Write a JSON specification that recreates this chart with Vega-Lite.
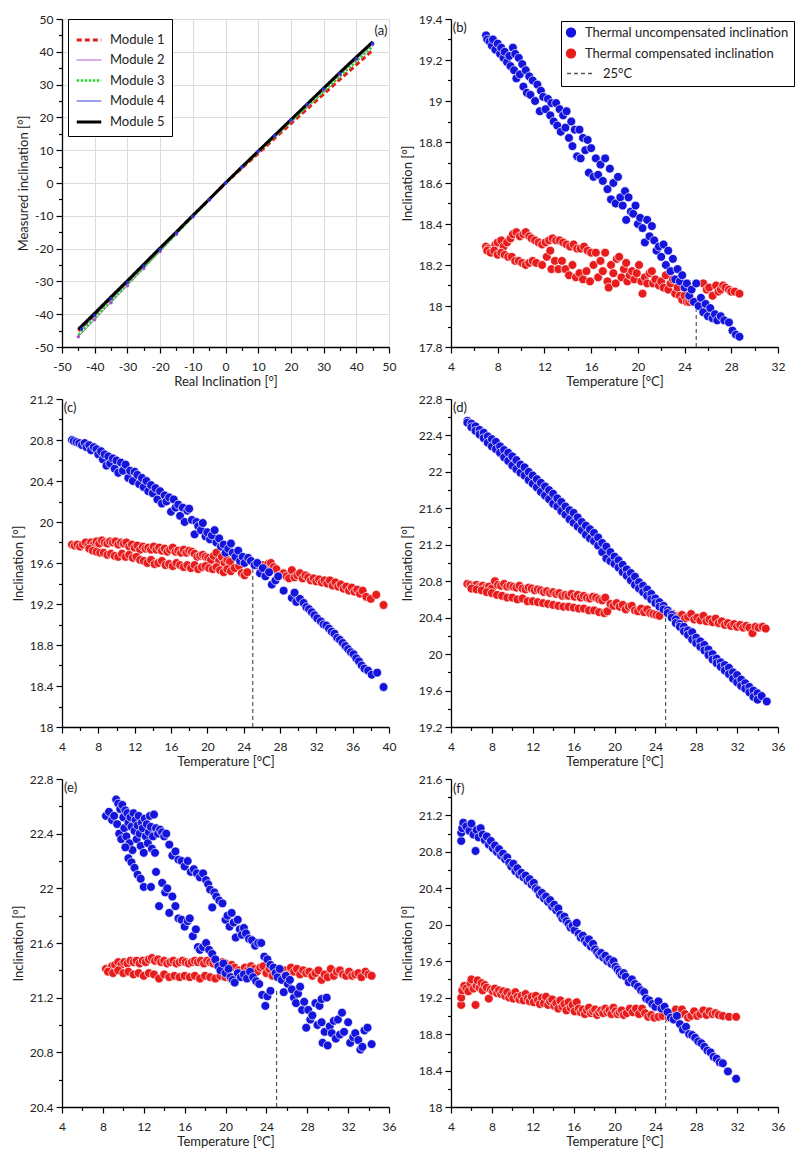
{
"$schema": "https://vega.github.io/schema/vega-lite/v6.json",
"background": "white",
"padding": {"left": 12, "top": 13, "right": 4, "bottom": 4},
"config": {
 "font": "Lato",
 "view": {"stroke": null},
 "axis": {"domainColor": "#000", "domainWidth": 1.3, "tickColor": "#000", "tickWidth": 1.2, "labelFont": "Lato", "labelFontSize": 12, "labelColor": "#222", "titleFont": "Lato", "titleFontSize": 13, "titleFontWeight": "normal", "titleColor": "#222", "grid": false, "labelFlush": false, "labelOverlap": false},
 "axisX": {"labelPadding": 8, "titlePadding": 3},
 "axisY": {"labelPadding": 3, "titlePadding": 4},
 "text": {"font": "Lato", "fontSize": 13, "color": "#222"}
},
"datasets": {
"a": [
{"x":-45,"y":-45.1,"m":"Module 1"},{"x":-40,"y":-40.1,"m":"Module 1"},{"x":-35,"y":-35.1,"m":"Module 1"},{"x":-30,"y":-30.1,"m":"Module 1"},{"x":-25,"y":-25.1,"m":"Module 1"},{"x":-20,"y":-20.1,"m":"Module 1"},{"x":-15,"y":-15,"m":"Module 1"},{"x":-10,"y":-10,"m":"Module 1"},{"x":-5,"y":-5,"m":"Module 1"},{"x":0,"y":0,"m":"Module 1"},{"x":5,"y":4.5,"m":"Module 1"},{"x":10,"y":9,"m":"Module 1"},{"x":15,"y":13.6,"m":"Module 1"},{"x":20,"y":18.1,"m":"Module 1"},{"x":25,"y":22.6,"m":"Module 1"},{"x":30,"y":27.1,"m":"Module 1"},{"x":35,"y":31.6,"m":"Module 1"},{"x":40,"y":36,"m":"Module 1"},{"x":45,"y":40.5,"m":"Module 1"},
{"x":-45,"y":-46.9,"m":"Module 2"},{"x":-40,"y":-41.7,"m":"Module 2"},{"x":-35,"y":-36.5,"m":"Module 2"},{"x":-30,"y":-31.3,"m":"Module 2"},{"x":-25,"y":-26.1,"m":"Module 2"},{"x":-20,"y":-20.9,"m":"Module 2"},{"x":-15,"y":-15.6,"m":"Module 2"},{"x":-10,"y":-10.4,"m":"Module 2"},{"x":-5,"y":-5.2,"m":"Module 2"},{"x":0,"y":0,"m":"Module 2"},{"x":5,"y":4.8,"m":"Module 2"},{"x":10,"y":9.6,"m":"Module 2"},{"x":15,"y":14.3,"m":"Module 2"},{"x":20,"y":19,"m":"Module 2"},{"x":25,"y":23.7,"m":"Module 2"},{"x":30,"y":28.4,"m":"Module 2"},{"x":35,"y":33,"m":"Module 2"},{"x":40,"y":37.6,"m":"Module 2"},{"x":45,"y":42.2,"m":"Module 2"},
{"x":-45,"y":-46.3,"m":"Module 3"},{"x":-40,"y":-41.2,"m":"Module 3"},{"x":-35,"y":-36,"m":"Module 3"},{"x":-30,"y":-30.9,"m":"Module 3"},{"x":-25,"y":-25.7,"m":"Module 3"},{"x":-20,"y":-20.6,"m":"Module 3"},{"x":-15,"y":-15.4,"m":"Module 3"},{"x":-10,"y":-10.3,"m":"Module 3"},{"x":-5,"y":-5.1,"m":"Module 3"},{"x":0,"y":0,"m":"Module 3"},{"x":5,"y":4.7,"m":"Module 3"},{"x":10,"y":9.4,"m":"Module 3"},{"x":15,"y":14.1,"m":"Module 3"},{"x":20,"y":18.7,"m":"Module 3"},{"x":25,"y":23.3,"m":"Module 3"},{"x":30,"y":27.9,"m":"Module 3"},{"x":35,"y":32.5,"m":"Module 3"},{"x":40,"y":37.1,"m":"Module 3"},{"x":45,"y":41.6,"m":"Module 3"},
{"x":-44,"y":-44.5,"m":"Module 4"},{"x":-40,"y":-40.4,"m":"Module 4"},{"x":-35,"y":-35.3,"m":"Module 4"},{"x":-30,"y":-30.3,"m":"Module 4"},{"x":-25,"y":-25.3,"m":"Module 4"},{"x":-20,"y":-20.3,"m":"Module 4"},{"x":-15,"y":-15.2,"m":"Module 4"},{"x":-10,"y":-10.1,"m":"Module 4"},{"x":-5,"y":-5.1,"m":"Module 4"},{"x":0,"y":0,"m":"Module 4"},{"x":5,"y":4.9,"m":"Module 4"},{"x":10,"y":9.7,"m":"Module 4"},{"x":15,"y":14.5,"m":"Module 4"},{"x":20,"y":19.3,"m":"Module 4"},{"x":25,"y":24,"m":"Module 4"},{"x":30,"y":28.7,"m":"Module 4"},{"x":35,"y":33.4,"m":"Module 4"},{"x":40,"y":38,"m":"Module 4"},{"x":45,"y":42.6,"m":"Module 4"},
{"x":-45,"y":-44.6,"m":"Module 5"},{"x":-40,"y":-39.7,"m":"Module 5"},{"x":-35,"y":-34.7,"m":"Module 5"},{"x":-30,"y":-29.8,"m":"Module 5"},{"x":-25,"y":-24.8,"m":"Module 5"},{"x":-20,"y":-19.8,"m":"Module 5"},{"x":-15,"y":-14.9,"m":"Module 5"},{"x":-10,"y":-9.9,"m":"Module 5"},{"x":-5,"y":-5,"m":"Module 5"},{"x":0,"y":0,"m":"Module 5"},{"x":5,"y":4.9,"m":"Module 5"},{"x":10,"y":9.7,"m":"Module 5"},{"x":15,"y":14.5,"m":"Module 5"},{"x":20,"y":19.3,"m":"Module 5"},{"x":25,"y":24.1,"m":"Module 5"},{"x":30,"y":28.9,"m":"Module 5"},{"x":35,"y":33.7,"m":"Module 5"},{"x":40,"y":38.4,"m":"Module 5"},{"x":45,"y":43,"m":"Module 5"}
],
"bu": [
{"t":7,"v":19.32},{"t":7.1,"v":19.3},{"t":7.3,"v":19.29},{"t":7.5,"v":19.27},{"t":7.6,"v":19.3},{"t":7.8,"v":19.25},{"t":8,"v":19.28},{"t":8.2,"v":19.23},{"t":8.3,"v":19.26},{"t":8.5,"v":19.21},{"t":8.6,"v":19.24},{"t":8.8,"v":19.19},{"t":9,"v":19.22},{"t":9.1,"v":19.17},{"t":9.3,"v":19.26},{"t":9.4,"v":19.15},{"t":9.5,"v":19.23},{"t":9.6,"v":19.11},{"t":9.8,"v":19.21},{"t":9.9,"v":19.13},{"t":10.1,"v":19.18},{"t":10.2,"v":19.07},{"t":10.4,"v":19.15},{"t":10.5,"v":19.04},{"t":10.7,"v":19.12},{"t":10.8,"v":19.03},{"t":11,"v":19.1},{"t":11.2,"v":19},{"t":11.4,"v":19.08},{"t":11.6,"v":18.95},{"t":11.7,"v":19.05},{"t":11.9,"v":19.02},{"t":12.1,"v":18.96},{"t":12.3,"v":19.01},{"t":12.5,"v":18.93},{"t":12.6,"v":18.99},{"t":12.8,"v":18.9},{"t":13,"v":18.99},{"t":13.1,"v":18.88},{"t":13.3,"v":18.96},{"t":13.4,"v":18.85},{"t":13.6,"v":18.93},{"t":13.8,"v":18.87},{"t":13.9,"v":18.95},{"t":14.1,"v":18.82},{"t":14.3,"v":18.9},{"t":14.4,"v":18.78},{"t":14.6,"v":18.86},{"t":14.8,"v":18.73},{"t":15,"v":18.86},{"t":15.1,"v":18.72},{"t":15.3,"v":18.82},{"t":15.5,"v":18.76},{"t":15.7,"v":18.81},{"t":15.8,"v":18.65},{"t":16,"v":18.77},{"t":16.2,"v":18.63},{"t":16.4,"v":18.72},{"t":16.6,"v":18.64},{"t":16.8,"v":18.69},{"t":17,"v":18.61},{"t":17.2,"v":18.72},{"t":17.4,"v":18.57},{"t":17.6,"v":18.67},{"t":17.7,"v":18.52},{"t":17.9,"v":18.6},{"t":18.1,"v":18.5},{"t":18.3,"v":18.63},{"t":18.5,"v":18.53},{"t":18.7,"v":18.49},{"t":18.9,"v":18.56},{"t":19,"v":18.42},{"t":19.2,"v":18.53},{"t":19.4,"v":18.46},{"t":19.6,"v":18.45},{"t":19.8,"v":18.49},{"t":20,"v":18.4},{"t":20.2,"v":18.43},{"t":20.4,"v":18.38},{"t":20.6,"v":18.31},{"t":20.8,"v":18.42},{"t":21,"v":18.34},{"t":21.2,"v":18.39},{"t":21.4,"v":18.32},{"t":21.6,"v":18.27},{"t":21.8,"v":18.29},{"t":22,"v":18.24},{"t":22.2,"v":18.3},{"t":22.4,"v":18.2},{"t":22.6,"v":18.27},{"t":22.8,"v":18.17},{"t":23,"v":18.23},{"t":23.2,"v":18.13},{"t":23.4,"v":18.18},{"t":23.6,"v":18.12},{"t":23.8,"v":18.15},{"t":24,"v":18.09},{"t":24.2,"v":18.11},{"t":24.4,"v":18.05},{"t":24.6,"v":18.08},{"t":24.8,"v":18.02},{"t":25,"v":18.11},{"t":25.2,"v":18},{"t":25.4,"v":18.04},{"t":25.6,"v":17.97},{"t":25.8,"v":18.01},{"t":26,"v":17.95},{"t":26.2,"v":17.99},{"t":26.4,"v":17.94},{"t":26.6,"v":17.96},{"t":26.8,"v":17.93},{"t":27.1,"v":17.95},{"t":27.4,"v":17.93},{"t":27.8,"v":17.92},{"t":28.1,"v":17.88},{"t":28.4,"v":17.86},{"t":28.7,"v":17.85}
],
"br": [
{"t":7,"v":18.29},{"t":7.2,"v":18.28},{"t":7.5,"v":18.27},{"t":7.8,"v":18.3},{"t":8,"v":18.31},{"t":8.3,"v":18.32},{"t":8.5,"v":18.29},{"t":8.8,"v":18.31},{"t":9.1,"v":18.33},{"t":9.3,"v":18.35},{"t":9.6,"v":18.36},{"t":9.9,"v":18.34},{"t":10.2,"v":18.35},{"t":10.4,"v":18.36},{"t":10.7,"v":18.34},{"t":10.9,"v":18.33},{"t":11.2,"v":18.32},{"t":11.5,"v":18.31},{"t":11.8,"v":18.3},{"t":12.1,"v":18.31},{"t":12.4,"v":18.32},{"t":12.7,"v":18.33},{"t":13,"v":18.32},{"t":13.3,"v":18.32},{"t":13.6,"v":18.31},{"t":13.9,"v":18.3},{"t":14.2,"v":18.29},{"t":14.5,"v":18.3},{"t":14.8,"v":18.28},{"t":15.1,"v":18.28},{"t":15.4,"v":18.29},{"t":15.7,"v":18.27},{"t":16,"v":18.26},
{"t":7.1,"v":18.27},{"t":7.4,"v":18.26},{"t":7.7,"v":18.27},{"t":8,"v":18.25},{"t":8.3,"v":18.26},{"t":8.6,"v":18.25},{"t":8.9,"v":18.24},{"t":9.2,"v":18.24},{"t":9.5,"v":18.22},{"t":9.8,"v":18.22},{"t":10.1,"v":18.21},{"t":10.4,"v":18.2},{"t":10.7,"v":18.21},{"t":11,"v":18.22},{"t":11.3,"v":18.21},{"t":11.8,"v":18.2},{"t":12.2,"v":18.24},{"t":12.5,"v":18.27},{"t":12.6,"v":18.18},{"t":12.9,"v":18.22},{"t":13.2,"v":18.18},{"t":13.5,"v":18.22},{"t":13.8,"v":18.18},{"t":14.1,"v":18.15},{"t":14.4,"v":18.2},{"t":14.7,"v":18.14},{"t":15,"v":18.16},{"t":15.3,"v":18.13},{"t":15.6,"v":18.17},{"t":15.9,"v":18.12},
{"t":16.2,"v":18.2},{"t":16.4,"v":18.26},{"t":16.6,"v":18.14},{"t":16.8,"v":18.22},{"t":17,"v":18.17},{"t":17.2,"v":18.26},{"t":17.4,"v":18.12},{"t":17.5,"v":18.09},{"t":17.7,"v":18.2},{"t":17.9,"v":18.16},{"t":18.1,"v":18.11},{"t":18.2,"v":18.23},{"t":18.4,"v":18.24},{"t":18.6,"v":18.14},{"t":18.8,"v":18.18},{"t":19,"v":18.21},{"t":19.1,"v":18.12},{"t":19.3,"v":18.15},{"t":19.5,"v":18.17},{"t":19.7,"v":18.13},{"t":19.9,"v":18.16},{"t":20.1,"v":18.2},{"t":20.3,"v":18.12},{"t":20.4,"v":18.06},{"t":20.6,"v":18.14},{"t":20.8,"v":18.11},{"t":21,"v":18.16},{"t":21.2,"v":18.17},{"t":21.3,"v":18.11},{"t":21.5,"v":18.13},{"t":21.8,"v":18.1},{"t":22,"v":18.12},{"t":22.2,"v":18.09},{"t":22.4,"v":18.15},{"t":22.6,"v":18.08},{"t":22.8,"v":18.11},{"t":23,"v":18.13},{"t":23.2,"v":18.06},{"t":23.4,"v":18.09},{"t":23.6,"v":18.05},{"t":23.8,"v":18.03},{"t":24,"v":18.05},{"t":24.2,"v":18.02},{"t":24.4,"v":18.02},{"t":24.6,"v":18.03},
{"t":25.6,"v":18.11},{"t":25.9,"v":18.08},{"t":26.1,"v":18.09},{"t":26.4,"v":18.05},{"t":26.7,"v":18.1},{"t":26.9,"v":18.07},{"t":27.1,"v":18.08},{"t":27.3,"v":18.1},{"t":27.5,"v":18.09},{"t":27.8,"v":18.08},{"t":28,"v":18.07},{"t":28.3,"v":18.07},{"t":28.7,"v":18.06}
],
"cu": [
{"t":5.1,"v":20.8},{"t":5.3,"v":20.79},{"t":5.6,"v":20.78},{"t":5.9,"v":20.77},{"t":6.2,"v":20.75},{"t":6.5,"v":20.77},{"t":6.7,"v":20.73},{"t":7,"v":20.75},{"t":7.2,"v":20.7},{"t":7.5,"v":20.73},{"t":7.8,"v":20.71},{"t":8,"v":20.66},{"t":8.3,"v":20.69},{"t":8.5,"v":20.61},{"t":8.7,"v":20.66},{"t":8.9,"v":20.55},{"t":9.1,"v":20.64},{"t":9.3,"v":20.57},{"t":9.6,"v":20.62},{"t":9.8,"v":20.52},{"t":10,"v":20.6},{"t":10.2,"v":20.48},{"t":10.5,"v":20.58},{"t":10.7,"v":20.5},{"t":11,"v":20.56},{"t":11.3,"v":20.43},{"t":11.5,"v":20.5},{"t":11.8,"v":20.4},{"t":12,"v":20.49},{"t":12.3,"v":20.46},{"t":12.5,"v":20.37},{"t":12.8,"v":20.43},{"t":13,"v":20.34},{"t":13.3,"v":20.4},{"t":13.5,"v":20.3},{"t":13.8,"v":20.36},{"t":14,"v":20.28},{"t":14.3,"v":20.33},{"t":14.5,"v":20.22},{"t":14.8,"v":20.3},{"t":15,"v":20.18},{"t":15.3,"v":20.26},{"t":15.5,"v":20.2},{"t":15.8,"v":20.24},{"t":16,"v":20.1},{"t":16.3,"v":20.22},{"t":16.5,"v":20.14},{"t":16.8,"v":20.17},{"t":17,"v":20.06},{"t":17.3,"v":20.14},{"t":17.5,"v":20},{"t":17.8,"v":20.11},{"t":18,"v":20.13},{"t":18.3,"v":20.02},{"t":18.6,"v":19.88},{"t":18.8,"v":20},{"t":19,"v":19.96},{"t":19.3,"v":19.92},{"t":19.5,"v":19.99},{"t":19.8,"v":19.86},{"t":20,"v":19.9},{"t":20.3,"v":19.83},{"t":20.5,"v":19.87},{"t":20.8,"v":19.92},{"t":21,"v":19.8},{"t":21.3,"v":19.84},{"t":21.5,"v":19.76},{"t":21.8,"v":19.78},{"t":22,"v":19.7},{"t":22.3,"v":19.74},{"t":22.6,"v":19.79},{"t":22.8,"v":19.7},{"t":23.1,"v":19.66},{"t":23.4,"v":19.72},{"t":23.6,"v":19.62},{"t":23.9,"v":19.66},{"t":24.1,"v":19.6},{"t":24.5,"v":19.65},{"t":24.8,"v":19.62},{"t":25.2,"v":19.58},{"t":25.5,"v":19.6},{"t":25.8,"v":19.5},{"t":26.1,"v":19.55},{"t":26.4,"v":19.47},{"t":26.8,"v":19.51},{"t":27.1,"v":19.39},{"t":27.5,"v":19.43},{"t":27.8,"v":19.47},{"t":28.4,"v":19.33},{"t":29.3,"v":19.26},{"t":29.6,"v":19.31},{"t":29.8,"v":19.22},{"t":30.2,"v":19.25},{"t":30.6,"v":19.21},{"t":30.9,"v":19.17},{"t":31.2,"v":19.15},{"t":31.5,"v":19.12},{"t":31.8,"v":19.09},{"t":32.1,"v":19.06},{"t":32.5,"v":19.03},{"t":32.8,"v":19},{"t":33.1,"v":18.99},{"t":33.4,"v":18.96},{"t":33.7,"v":18.93},{"t":34,"v":18.91},{"t":34.3,"v":18.87},{"t":34.6,"v":18.85},{"t":34.9,"v":18.82},{"t":35.2,"v":18.79},{"t":35.5,"v":18.76},{"t":35.8,"v":18.73},{"t":36.1,"v":18.71},{"t":36.4,"v":18.67},{"t":36.7,"v":18.64},{"t":37,"v":18.6},{"t":37.3,"v":18.57},{"t":37.7,"v":18.55},{"t":38.1,"v":18.51},{"t":38.7,"v":18.53},{"t":39.4,"v":18.39}
],
"cr": [
{"t":5.1,"v":19.78},{"t":5.4,"v":19.77},{"t":5.7,"v":19.78},{"t":6,"v":19.76},{"t":6.3,"v":19.78},{"t":6.6,"v":19.8},{"t":6.9,"v":19.77},{"t":7.2,"v":19.8},{"t":7.5,"v":19.78},{"t":7.8,"v":19.81},{"t":8.1,"v":19.79},{"t":8.4,"v":19.82},{"t":8.7,"v":19.8},{"t":9,"v":19.79},{"t":9.3,"v":19.81},{"t":9.6,"v":19.8},{"t":9.9,"v":19.81},{"t":10.2,"v":19.78},{"t":10.5,"v":19.8},{"t":10.8,"v":19.79},{"t":11.1,"v":19.8},{"t":11.4,"v":19.76},{"t":11.7,"v":19.78},{"t":12,"v":19.75},{"t":12.3,"v":19.77},{"t":12.6,"v":19.73},{"t":12.9,"v":19.76},{"t":13.2,"v":19.74},{"t":13.5,"v":19.75},{"t":13.8,"v":19.73},{"t":14.1,"v":19.76},{"t":14.4,"v":19.73},{"t":14.7,"v":19.75},{"t":15,"v":19.72},{"t":15.3,"v":19.74},{"t":15.6,"v":19.71},{"t":15.9,"v":19.73},{"t":16.2,"v":19.75},{"t":16.5,"v":19.71},{"t":16.8,"v":19.72},{"t":17.1,"v":19.7},{"t":17.4,"v":19.73},{"t":17.7,"v":19.7},{"t":18,"v":19.72},{"t":18.3,"v":19.71},{"t":18.6,"v":19.69},{"t":18.9,"v":19.66},{"t":19.2,"v":19.67},{"t":19.5,"v":19.68},{"t":19.8,"v":19.66},{"t":20.1,"v":19.65},{"t":20.4,"v":19.63},{"t":20.7,"v":19.67},{"t":21,"v":19.7},{"t":21.3,"v":19.62},{"t":21.6,"v":19.66},{"t":21.9,"v":19.6},{"t":22.2,"v":19.63},{"t":22.5,"v":19.61},
{"t":7,"v":19.74},{"t":7.4,"v":19.72},{"t":7.8,"v":19.71},{"t":8.2,"v":19.7},{"t":8.6,"v":19.7},{"t":9,"v":19.68},{"t":9.4,"v":19.69},{"t":9.8,"v":19.67},{"t":10.2,"v":19.66},{"t":10.6,"v":19.69},{"t":11,"v":19.66},{"t":11.4,"v":19.68},{"t":11.8,"v":19.65},{"t":12.2,"v":19.66},{"t":12.6,"v":19.63},{"t":13,"v":19.62},{"t":13.4,"v":19.6},{"t":13.8,"v":19.63},{"t":14.2,"v":19.59},{"t":14.6,"v":19.6},{"t":15,"v":19.62},{"t":15.4,"v":19.58},{"t":15.8,"v":19.59},{"t":16.2,"v":19.57},{"t":16.6,"v":19.6},{"t":17,"v":19.58},{"t":17.4,"v":19.56},{"t":17.8,"v":19.58},{"t":18.2,"v":19.55},{"t":18.6,"v":19.58},{"t":19,"v":19.54},{"t":19.4,"v":19.56},{"t":19.8,"v":19.57},{"t":20.2,"v":19.55},{"t":20.6,"v":19.54},{"t":21,"v":19.56},{"t":21.4,"v":19.53},{"t":21.8,"v":19.51},{"t":22.2,"v":19.54},{"t":22.6,"v":19.52},{"t":23,"v":19.55},{"t":23.5,"v":19.57},{"t":23.8,"v":19.5},{"t":24.1,"v":19.48},{"t":24.4,"v":19.51},
{"t":25.5,"v":19.58},{"t":25.8,"v":19.56},{"t":26.1,"v":19.58},{"t":26.4,"v":19.55},{"t":26.7,"v":19.59},{"t":27,"v":19.6},{"t":27.3,"v":19.56},{"t":27.6,"v":19.54},{"t":28,"v":19.48},{"t":28.4,"v":19.5},{"t":28.7,"v":19.47},{"t":29,"v":19.45},{"t":29.3,"v":19.53},{"t":29.6,"v":19.46},{"t":29.9,"v":19.48},{"t":30.2,"v":19.5},{"t":30.5,"v":19.45},{"t":30.8,"v":19.48},{"t":31.1,"v":19.46},{"t":31.4,"v":19.43},{"t":31.7,"v":19.45},{"t":32,"v":19.42},{"t":32.3,"v":19.44},{"t":32.6,"v":19.41},{"t":32.9,"v":19.43},{"t":33.2,"v":19.4},{"t":33.5,"v":19.43},{"t":33.8,"v":19.38},{"t":34.1,"v":19.41},{"t":34.4,"v":19.37},{"t":34.7,"v":19.39},{"t":35,"v":19.35},{"t":35.3,"v":19.37},{"t":35.6,"v":19.33},{"t":35.9,"v":19.36},{"t":36.2,"v":19.32},{"t":36.5,"v":19.34},{"t":36.8,"v":19.3},{"t":37.1,"v":19.33},{"t":37.5,"v":19.27},{"t":38,"v":19.25},{"t":38.6,"v":19.29},{"t":39.4,"v":19.19}
],
"du": [
{"t":5.6,"v":22.56},{"t":5.6,"v":22.54},{"t":6,"v":22.53},{"t":6,"v":22.49},{"t":6.4,"v":22.5},{"t":6.4,"v":22.45},{"t":6.8,"v":22.46},{"t":6.8,"v":22.41},{"t":7.2,"v":22.43},{"t":7.2,"v":22.37},{"t":7.6,"v":22.39},{"t":7.6,"v":22.32},{"t":8,"v":22.36},{"t":8,"v":22.28},{"t":8.4,"v":22.33},{"t":8.4,"v":22.25},{"t":8.8,"v":22.28},{"t":8.8,"v":22.21},{"t":9.2,"v":22.24},{"t":9.2,"v":22.16},{"t":9.6,"v":22.21},{"t":9.6,"v":22.12},{"t":10,"v":22.17},{"t":10,"v":22.07},{"t":10.4,"v":22.13},{"t":10.4,"v":22.03},{"t":10.8,"v":22.08},{"t":10.8,"v":21.99},{"t":11.2,"v":22.05},{"t":11.2,"v":21.96},{"t":11.6,"v":22},{"t":11.6,"v":21.91},{"t":12,"v":21.96},{"t":12,"v":21.87},{"t":12.4,"v":21.92},{"t":12.4,"v":21.83},{"t":12.8,"v":21.88},{"t":12.8,"v":21.78},{"t":13.2,"v":21.84},{"t":13.2,"v":21.74},{"t":13.6,"v":21.8},{"t":13.6,"v":21.7},{"t":14,"v":21.76},{"t":14,"v":21.65},{"t":14.4,"v":21.71},{"t":14.4,"v":21.62},{"t":14.8,"v":21.67},{"t":14.8,"v":21.57},{"t":15.2,"v":21.62},{"t":15.2,"v":21.53},{"t":15.6,"v":21.58},{"t":15.6,"v":21.48},{"t":16,"v":21.55},{"t":16,"v":21.44},{"t":16.4,"v":21.5},{"t":16.4,"v":21.4},{"t":16.8,"v":21.45},{"t":16.8,"v":21.36},{"t":17.2,"v":21.41},{"t":17.2,"v":21.31},{"t":17.6,"v":21.37},{"t":17.6,"v":21.27},{"t":18,"v":21.33},{"t":18,"v":21.24},{"t":18.4,"v":21.28},{"t":18.4,"v":21.19},{"t":18.8,"v":21.22},{"t":18.8,"v":21.12},{"t":19.2,"v":21.18},{"t":19.2,"v":21.05},{"t":19.6,"v":21.12},{"t":19.6,"v":21.02},{"t":20,"v":21.07},{"t":20,"v":20.99},{"t":20.4,"v":21.03},{"t":20.4,"v":20.95},{"t":20.8,"v":20.98},{"t":20.8,"v":20.9},{"t":21.2,"v":20.93},{"t":21.2,"v":20.86},{"t":21.6,"v":20.89},{"t":21.6,"v":20.81},{"t":22,"v":20.85},{"t":22,"v":20.76},{"t":22.4,"v":20.79},{"t":22.4,"v":20.72},{"t":22.8,"v":20.75},{"t":22.8,"v":20.68},{"t":23.2,"v":20.71},{"t":23.2,"v":20.64},{"t":23.6,"v":20.66},{"t":23.6,"v":20.6},{"t":24,"v":20.61},{"t":24,"v":20.56},{"t":24.4,"v":20.57},{"t":24.4,"v":20.52},{"t":24.8,"v":20.53},{"t":24.8,"v":20.49},{"t":25.2,"v":20.48},{"t":25.2,"v":20.45},{"t":25.6,"v":20.43},{"t":25.6,"v":20.4},{"t":26,"v":20.38},{"t":26,"v":20.34},{"t":26.4,"v":20.33},{"t":26.4,"v":20.3},{"t":26.8,"v":20.3},{"t":26.8,"v":20.25},{"t":27.2,"v":20.26},{"t":27.2,"v":20.21},{"t":27.6,"v":20.24},{"t":27.6,"v":20.16},{"t":28,"v":20.18},{"t":28,"v":20.12},{"t":28.4,"v":20.14},{"t":28.4,"v":20.08},{"t":28.8,"v":20.1},{"t":28.8,"v":20.04},{"t":29.2,"v":20.05},{"t":29.2,"v":19.99},{"t":29.6,"v":20},{"t":29.6,"v":19.94},{"t":30,"v":19.95},{"t":30,"v":19.9},{"t":30.4,"v":19.91},{"t":30.4,"v":19.86},{"t":30.8,"v":19.88},{"t":30.8,"v":19.82},{"t":31.2,"v":19.85},{"t":31.2,"v":19.78},{"t":31.6,"v":19.8},{"t":31.6,"v":19.73},{"t":32,"v":19.77},{"t":32,"v":19.69},{"t":32.4,"v":19.72},{"t":32.4,"v":19.65},{"t":32.8,"v":19.68},{"t":32.8,"v":19.62},{"t":33.2,"v":19.64},{"t":33.2,"v":19.58},{"t":33.6,"v":19.6},{"t":33.6,"v":19.53},{"t":34,"v":19.57},{"t":34,"v":19.5},{"t":34.4,"v":19.54},{"t":34.9,"v":19.48}
],
"dr": [
{"t":5.6,"v":20.77},{"t":5.9,"v":20.76},{"t":6.2,"v":20.75},{"t":6.5,"v":20.76},{"t":6.8,"v":20.74},{"t":7.1,"v":20.75},{"t":7.4,"v":20.73},{"t":7.7,"v":20.74},{"t":8,"v":20.72},{"t":8.3,"v":20.8},{"t":8.6,"v":20.76},{"t":8.9,"v":20.75},{"t":9.2,"v":20.77},{"t":9.5,"v":20.74},{"t":9.8,"v":20.75},{"t":10.1,"v":20.74},{"t":10.4,"v":20.73},{"t":10.7,"v":20.75},{"t":11,"v":20.72},{"t":11.3,"v":20.71},{"t":11.6,"v":20.73},{"t":11.9,"v":20.72},{"t":12.2,"v":20.7},{"t":12.5,"v":20.71},{"t":12.8,"v":20.7},{"t":13.1,"v":20.68},{"t":13.4,"v":20.69},{"t":13.7,"v":20.67},{"t":14,"v":20.68},{"t":14.3,"v":20.66},{"t":14.6,"v":20.67},{"t":14.9,"v":20.64},{"t":15.2,"v":20.65},{"t":15.5,"v":20.64},{"t":15.8,"v":20.66},{"t":16.1,"v":20.63},{"t":16.4,"v":20.65},{"t":16.7,"v":20.62},{"t":17,"v":20.64},{"t":17.3,"v":20.62},{"t":17.6,"v":20.61},{"t":17.9,"v":20.63},{"t":18.2,"v":20.62},{"t":18.5,"v":20.6},{"t":18.8,"v":20.59},{"t":19.1,"v":20.62},
{"t":6,"v":20.72},{"t":6.5,"v":20.71},{"t":7,"v":20.7},{"t":7.5,"v":20.68},{"t":8,"v":20.67},{"t":8.5,"v":20.65},{"t":9,"v":20.64},{"t":9.5,"v":20.62},{"t":10,"v":20.62},{"t":10.5,"v":20.6},{"t":11,"v":20.61},{"t":11.5,"v":20.58},{"t":12,"v":20.58},{"t":12.5,"v":20.57},{"t":13,"v":20.56},{"t":13.5,"v":20.55},{"t":14,"v":20.54},{"t":14.5,"v":20.53},{"t":15,"v":20.52},{"t":15.5,"v":20.52},{"t":16,"v":20.51},{"t":16.5,"v":20.5},{"t":17,"v":20.5},{"t":17.5,"v":20.48},{"t":18,"v":20.48},{"t":18.5,"v":20.46},{"t":19,"v":20.45},{"t":19.3,"v":20.47},
{"t":19.6,"v":20.55},{"t":19.9,"v":20.53},{"t":20.2,"v":20.56},{"t":20.5,"v":20.52},{"t":20.8,"v":20.54},{"t":21.1,"v":20.49},{"t":21.4,"v":20.52},{"t":21.7,"v":20.53},{"t":22,"v":20.48},{"t":22.3,"v":20.47},{"t":22.6,"v":20.5},{"t":22.9,"v":20.46},{"t":23.2,"v":20.49},{"t":23.5,"v":20.45},{"t":23.8,"v":20.44},{"t":24.1,"v":20.43},{"t":24.4,"v":20.42},
{"t":25.7,"v":20.44},{"t":26,"v":20.42},{"t":26.3,"v":20.41},{"t":26.6,"v":20.43},{"t":26.9,"v":20.39},{"t":27.2,"v":20.41},{"t":27.5,"v":20.44},{"t":27.8,"v":20.38},{"t":28.1,"v":20.4},{"t":28.4,"v":20.37},{"t":28.7,"v":20.42},{"t":29,"v":20.36},{"t":29.3,"v":20.38},{"t":29.6,"v":20.35},{"t":29.9,"v":20.39},{"t":30.2,"v":20.34},{"t":30.5,"v":20.36},{"t":30.8,"v":20.32},{"t":31.1,"v":20.34},{"t":31.4,"v":20.31},{"t":31.7,"v":20.33},{"t":32,"v":20.3},{"t":32.3,"v":20.32},{"t":32.6,"v":20.29},{"t":32.9,"v":20.31},{"t":33.2,"v":20.29},{"t":33.5,"v":20.23},{"t":33.8,"v":20.3},{"t":34.1,"v":20.29},{"t":34.5,"v":20.3},{"t":34.8,"v":20.28}
],
"eu": [
{"t":8.3,"v":22.53},{"t":8.6,"v":22.56},{"t":8.9,"v":22.5},{"t":9.1,"v":22.53},{"t":9.3,"v":22.65},{"t":9.4,"v":22.47},{"t":9.5,"v":22.62},{"t":9.6,"v":22.4},{"t":9.7,"v":22.58},{"t":9.8,"v":22.36},{"t":9.9,"v":22.61},{"t":10,"v":22.52},{"t":10.1,"v":22.44},{"t":10.2,"v":22.57},{"t":10.3,"v":22.38},{"t":10.4,"v":22.55},{"t":10.5,"v":22.48},{"t":10.6,"v":22.33},{"t":10.7,"v":22.52},{"t":10.8,"v":22.45},{"t":10.9,"v":22.28},{"t":11,"v":22.55},{"t":11.1,"v":22.42},{"t":11.2,"v":22.5},{"t":11.3,"v":22.36},{"t":11.4,"v":22.46},{"t":11.5,"v":22.53},{"t":11.6,"v":22.4},{"t":11.7,"v":22.31},{"t":11.8,"v":22.48},{"t":11.9,"v":22.44},{"t":12,"v":22.26},{"t":12.1,"v":22.51},{"t":12.2,"v":22.38},{"t":12.3,"v":22.47},{"t":12.4,"v":22.33},{"t":12.5,"v":22.41},{"t":12.6,"v":22.53},{"t":12.7,"v":22.45},{"t":12.8,"v":22.29},{"t":12.9,"v":22.38},{"t":13,"v":22.54},{"t":13.1,"v":22.26},{"t":13.2,"v":22.44},{"t":13.4,"v":22.4},{"t":13.6,"v":22.43},{"t":13.8,"v":22.41},{"t":14,"v":22.38},
{"t":10.2,"v":22.3},{"t":10.5,"v":22.22},{"t":10.8,"v":22.19},{"t":11.1,"v":22.15},{"t":11.4,"v":22.1},{"t":11.7,"v":22.07},{"t":12,"v":22.01},{"t":12.7,"v":22.01},{"t":13.2,"v":22.12},{"t":13.5,"v":21.87},{"t":13.8,"v":22.04},{"t":14.1,"v":21.97},{"t":14.3,"v":22},{"t":14.5,"v":21.82},{"t":14.8,"v":21.94},{"t":15.1,"v":21.87},{"t":15.4,"v":21.78},{"t":15.7,"v":21.77},{"t":16,"v":21.72},{"t":16.3,"v":21.76},{"t":16.5,"v":21.78},{"t":16.8,"v":21.65},{"t":17.1,"v":21.7},{"t":17.3,"v":21.57},{"t":17.5,"v":21.55},{"t":17.8,"v":21.57},{"t":18.1,"v":21.6},{"t":18.4,"v":21.55},{"t":18.7,"v":21.52},{"t":19,"v":21.48},{"t":19.3,"v":21.43},{"t":19.5,"v":21.4},{"t":19.8,"v":21.45},{"t":20,"v":21.38},{"t":20.3,"v":21.41},{"t":20.5,"v":21.35},{"t":20.7,"v":21.33},{"t":20.9,"v":21.31},{"t":21.2,"v":21.38},{"t":21.5,"v":21.35},{"t":21.8,"v":21.37},{"t":22.1,"v":21.34},{"t":22.4,"v":21.39},{"t":22.7,"v":21.35},{"t":23,"v":21.32},{"t":23.3,"v":21.3},{"t":23.6,"v":21.22},{"t":23.9,"v":21.14},{"t":24.1,"v":21.21},{"t":24.4,"v":21.25},
{"t":14.2,"v":22.4},{"t":14.5,"v":22.32},{"t":14.8,"v":22.24},{"t":15.1,"v":22.27},{"t":15.4,"v":22.21},{"t":15.7,"v":22.2},{"t":16,"v":22.16},{"t":16.3,"v":22.2},{"t":16.6,"v":22.12},{"t":16.9,"v":22.14},{"t":17.2,"v":22.11},{"t":17.5,"v":22.08},{"t":17.8,"v":22.11},{"t":18.1,"v":22.06},{"t":18.3,"v":22.03},{"t":18.5,"v":21.99},{"t":18.7,"v":21.86},{"t":18.9,"v":21.97},{"t":19.1,"v":21.94},{"t":19.4,"v":21.91},{"t":19.7,"v":21.89},{"t":20,"v":21.77},{"t":20.2,"v":21.8},{"t":20.4,"v":21.72},{"t":20.6,"v":21.82},{"t":20.8,"v":21.75},{"t":21,"v":21.64},{"t":21.2,"v":21.77},{"t":21.4,"v":21.7},{"t":21.6,"v":21.66},{"t":21.8,"v":21.71},{"t":22,"v":21.67},{"t":22.3,"v":21.63},{"t":22.6,"v":21.62},{"t":22.9,"v":21.58},{"t":23.2,"v":21.6},{"t":23.5,"v":21.6},{"t":23.8,"v":21.5},{"t":24.1,"v":21.48},{"t":24.4,"v":21.44},{"t":24.7,"v":21.42},
{"t":24.9,"v":21.38},{"t":25.1,"v":21.35},{"t":25.3,"v":21.41},{"t":25.5,"v":21.33},{"t":25.7,"v":21.24},{"t":25.9,"v":21.36},{"t":26.1,"v":21.3},{"t":26.3,"v":21.33},{"t":26.5,"v":21.26},{"t":26.7,"v":21.2},{"t":26.9,"v":21.16},{"t":27.1,"v":21.23},{"t":27.3,"v":21.28},{"t":27.5,"v":21.11},{"t":27.7,"v":21.17},{"t":27.9,"v":20.98},{"t":28.1,"v":21.11},{"t":28.3,"v":21.04},{"t":28.5,"v":21.07},{"t":28.8,"v":21.16},{"t":29,"v":21},{"t":29.2,"v":21.14},{"t":29.4,"v":21.02},{"t":29.4,"v":21.19},{"t":29.5,"v":20.87},{"t":29.7,"v":20.95},{"t":29.9,"v":21.2},{"t":30,"v":20.85},{"t":30.2,"v":20.99},{"t":30.4,"v":20.94},{"t":30.6,"v":21.03},{"t":30.8,"v":20.9},{"t":31,"v":21.04},{"t":31.2,"v":20.93},{"t":31.4,"v":21.09},{"t":31.6,"v":20.95},{"t":32,"v":21.02},{"t":32.2,"v":20.87},{"t":32.5,"v":20.91},{"t":32.7,"v":20.94},{"t":33,"v":20.89},{"t":33.2,"v":20.82},{"t":33.4,"v":20.84},{"t":33.6,"v":20.96},{"t":33.9,"v":20.98},{"t":34.3,"v":20.86}
],
"er": [
{"t":8.3,"v":21.41},{"t":8.6,"v":21.4},{"t":8.9,"v":21.43},{"t":9.2,"v":21.44},{"t":9.5,"v":21.46},{"t":9.8,"v":21.44},{"t":10.1,"v":21.46},{"t":10.4,"v":21.45},{"t":10.7,"v":21.47},{"t":11,"v":21.46},{"t":11.3,"v":21.47},{"t":11.6,"v":21.45},{"t":11.9,"v":21.47},{"t":12.2,"v":21.46},{"t":12.5,"v":21.48},{"t":12.8,"v":21.49},{"t":13.1,"v":21.47},{"t":13.4,"v":21.48},{"t":13.7,"v":21.46},{"t":14,"v":21.47},{"t":14.3,"v":21.45},{"t":14.6,"v":21.46},{"t":14.9,"v":21.47},{"t":15.2,"v":21.45},{"t":15.5,"v":21.46},{"t":15.8,"v":21.47},{"t":16.1,"v":21.46},{"t":16.4,"v":21.45},{"t":16.7,"v":21.46},{"t":17,"v":21.47},{"t":17.3,"v":21.46},{"t":17.6,"v":21.47},{"t":17.9,"v":21.45},{"t":18.2,"v":21.47},{"t":18.5,"v":21.46},{"t":18.8,"v":21.45},{"t":19.1,"v":21.46},{"t":19.4,"v":21.44},{"t":19.7,"v":21.46},{"t":20,"v":21.45},{"t":20.3,"v":21.43},{"t":20.6,"v":21.44},{"t":20.9,"v":21.42},
{"t":8.5,"v":21.39},{"t":9,"v":21.38},{"t":9.5,"v":21.4},{"t":10,"v":21.38},{"t":10.5,"v":21.39},{"t":11,"v":21.37},{"t":11.5,"v":21.38},{"t":12,"v":21.36},{"t":12.5,"v":21.38},{"t":13,"v":21.37},{"t":13.5,"v":21.34},{"t":14,"v":21.37},{"t":14.5,"v":21.35},{"t":15,"v":21.36},{"t":15.5,"v":21.35},{"t":16,"v":21.36},{"t":16.5,"v":21.35},{"t":17,"v":21.36},{"t":17.5,"v":21.34},{"t":18,"v":21.36},{"t":18.5,"v":21.35},{"t":19,"v":21.34},{"t":19.5,"v":21.36},{"t":20,"v":21.35},{"t":20.5,"v":21.34},{"t":21,"v":21.36},
{"t":21.3,"v":21.4},{"t":21.6,"v":21.38},{"t":21.9,"v":21.42},{"t":22.2,"v":21.4},{"t":22.5,"v":21.43},{"t":22.8,"v":21.41},{"t":23.1,"v":21.39},{"t":23.4,"v":21.42},{"t":23.7,"v":21.43},{"t":24,"v":21.38},{"t":24.3,"v":21.41},{"t":24.6,"v":21.36},{"t":24.9,"v":21.4},{"t":25.2,"v":21.41},{"t":25.5,"v":21.38},{"t":25.8,"v":21.4},{"t":26.1,"v":21.37},{"t":26.4,"v":21.42},{"t":26.7,"v":21.39},{"t":27,"v":21.41},{"t":27.3,"v":21.37},{"t":27.6,"v":21.4},{"t":27.9,"v":21.38},{"t":28.2,"v":21.39},{"t":28.5,"v":21.36},{"t":28.8,"v":21.38},{"t":29.1,"v":21.4},{"t":29.4,"v":21.33},{"t":29.7,"v":21.37},{"t":30,"v":21.35},{"t":30.3,"v":21.41},{"t":30.6,"v":21.36},{"t":30.9,"v":21.39},{"t":31.2,"v":21.4},{"t":31.5,"v":21.37},{"t":31.8,"v":21.36},{"t":32.1,"v":21.39},{"t":32.4,"v":21.36},{"t":32.7,"v":21.37},{"t":33,"v":21.38},{"t":33.3,"v":21.35},{"t":33.7,"v":21.39},{"t":34,"v":21.37},{"t":34.3,"v":21.36}
],
"fu": [
{"t":5,"v":20.92},{"t":5,"v":21.01},{"t":5.1,"v":21.06},{"t":5.2,"v":21.12},{"t":5.5,"v":21.08},{"t":5.8,"v":21.03},{"t":6,"v":21.11},{"t":6.2,"v":20.99},{"t":6.4,"v":20.81},{"t":6.5,"v":21.04},{"t":6.7,"v":20.96},{"t":6.9,"v":21.06},{"t":7.1,"v":20.99},{"t":7.3,"v":20.93},{"t":7.5,"v":20.97},{"t":7.7,"v":20.88},{"t":7.9,"v":20.92},{"t":8.1,"v":20.84},{"t":8.3,"v":20.87},{"t":8.5,"v":20.8},{"t":8.7,"v":20.83},{"t":8.9,"v":20.76},{"t":9.1,"v":20.78},{"t":9.3,"v":20.72},{"t":9.5,"v":20.74},{"t":9.7,"v":20.68},{"t":9.9,"v":20.64},{"t":10.1,"v":20.67},{"t":10.3,"v":20.59},{"t":10.5,"v":20.62},{"t":10.7,"v":20.55},{"t":10.9,"v":20.57},{"t":11.1,"v":20.52},{"t":11.3,"v":20.54},{"t":11.5,"v":20.48},{"t":11.7,"v":20.5},{"t":11.9,"v":20.44},{"t":12.1,"v":20.46},{"t":12.3,"v":20.4},{"t":12.5,"v":20.38},{"t":12.7,"v":20.33},{"t":12.9,"v":20.35},{"t":13.1,"v":20.29},{"t":13.3,"v":20.31},{"t":13.5,"v":20.25},{"t":13.7,"v":20.27},{"t":13.9,"v":20.2},{"t":14.1,"v":20.22},{"t":14.3,"v":20.16},{"t":14.5,"v":20.18},{"t":14.7,"v":20.11},{"t":14.9,"v":20.07},{"t":15.1,"v":20.09},{"t":15.3,"v":20.04},{"t":15.5,"v":20.01},{"t":15.7,"v":19.97},{"t":15.9,"v":19.99},{"t":16.1,"v":19.94},{"t":16.3,"v":20.02},{"t":16.5,"v":19.9},{"t":16.7,"v":19.86},{"t":16.9,"v":19.88},{"t":17.1,"v":19.83},{"t":17.3,"v":19.8},{"t":17.5,"v":19.84},{"t":17.7,"v":19.76},{"t":17.9,"v":19.79},{"t":18.1,"v":19.73},{"t":18.3,"v":19.7},{"t":18.5,"v":19.67},{"t":18.7,"v":19.69},{"t":18.9,"v":19.64},{"t":19.1,"v":19.66},{"t":19.3,"v":19.6},{"t":19.5,"v":19.62},{"t":19.7,"v":19.57},{"t":19.9,"v":19.6},{"t":20.1,"v":19.54},{"t":20.3,"v":19.51},{"t":20.5,"v":19.48},{"t":20.7,"v":19.45},{"t":20.9,"v":19.47},{"t":21.1,"v":19.43},{"t":21.4,"v":19.37},{"t":21.7,"v":19.4},{"t":22,"v":19.35},{"t":22.3,"v":19.32},{"t":22.6,"v":19.28},{"t":22.9,"v":19.26},{"t":23.1,"v":19.19},{"t":23.4,"v":19.17},{"t":23.7,"v":19.13},{"t":24,"v":19.1},{"t":24.3,"v":19.16},{"t":24.6,"v":19.08},{"t":24.9,"v":19.1},{"t":25.2,"v":19.04},{"t":25.5,"v":18.98},{"t":25.8,"v":18.96},{"t":26.1,"v":19},{"t":26.4,"v":18.91},{"t":26.7,"v":18.85},{"t":27,"v":18.88},{"t":27.3,"v":18.8},{"t":27.6,"v":18.79},{"t":27.9,"v":18.76},{"t":28.2,"v":18.72},{"t":28.5,"v":18.7},{"t":28.8,"v":18.66},{"t":29.1,"v":18.62},{"t":29.4,"v":18.6},{"t":29.7,"v":18.55},{"t":30,"v":18.53},{"t":30.3,"v":18.49},{"t":30.6,"v":18.48},{"t":31.1,"v":18.39},{"t":31.9,"v":18.31}
],
"fr": [
{"t":5,"v":19.12},{"t":5,"v":19.2},{"t":5.1,"v":19.28},{"t":5.3,"v":19.33},{"t":5.5,"v":19.3},{"t":5.7,"v":19.27},{"t":5.9,"v":19.36},{"t":6,"v":19.4},{"t":6.2,"v":19.3},{"t":6.4,"v":19.12},{"t":6.5,"v":19.33},{"t":6.6,"v":19.39},{"t":6.8,"v":19.31},{"t":7,"v":19.36},{"t":7.1,"v":19.28},{"t":7.3,"v":19.34},{"t":7.5,"v":19.31},{"t":7.7,"v":19.19},{"t":7.9,"v":19.29},{"t":8.1,"v":19.27},{"t":8.3,"v":19.3},{"t":8.5,"v":19.25},{"t":8.7,"v":19.28},{"t":8.9,"v":19.24},{"t":9.1,"v":19.27},{"t":9.3,"v":19.22},{"t":9.5,"v":19.26},{"t":9.7,"v":19.2},{"t":9.9,"v":19.23},{"t":10.1,"v":19.19},{"t":10.3,"v":19.26},{"t":10.5,"v":19.21},{"t":10.7,"v":19.18},{"t":10.9,"v":19.22},{"t":11.1,"v":19.17},{"t":11.3,"v":19.24},{"t":11.5,"v":19.19},{"t":11.7,"v":19.16},{"t":11.9,"v":19.21},{"t":12.1,"v":19.15},{"t":12.3,"v":19.22},{"t":12.5,"v":19.17},{"t":12.7,"v":19.13},{"t":12.9,"v":19.2},{"t":13.1,"v":19.14},{"t":13.3,"v":19.21},{"t":13.5,"v":19.12},{"t":13.7,"v":19.16},{"t":13.9,"v":19.18},{"t":14.1,"v":19.11},{"t":14.3,"v":19.14},{"t":14.5,"v":19.08},{"t":14.7,"v":19.17},{"t":14.9,"v":19.1},{"t":15.1,"v":19.13},{"t":15.3,"v":19.06},{"t":15.5,"v":19.15},{"t":15.7,"v":19.09},{"t":15.9,"v":19.12},{"t":16.1,"v":19.05},{"t":16.3,"v":19.15},{"t":16.5,"v":19.08},{"t":16.7,"v":19.04},{"t":16.9,"v":19.07},{"t":17.1,"v":19.02},{"t":17.3,"v":19.06},{"t":17.5,"v":19.09},{"t":17.7,"v":19.03},{"t":17.9,"v":19.05},{"t":18.1,"v":19.07},{"t":18.3,"v":19.01},{"t":18.5,"v":19.04},{"t":18.7,"v":19.06},{"t":18.9,"v":19.03},{"t":19.1,"v":19.08},{"t":19.3,"v":19.04},{"t":19.5,"v":19.06},{"t":19.7,"v":19.02},{"t":19.9,"v":19.09},{"t":20.1,"v":19.05},{"t":20.3,"v":19.02},{"t":20.5,"v":19.04},{"t":20.7,"v":19.06},{"t":20.9,"v":19.01},{"t":21.2,"v":19.03},{"t":21.5,"v":19.08},{"t":21.8,"v":19.04},{"t":22.1,"v":19.08},{"t":22.4,"v":19.02},{"t":22.7,"v":19.08},{"t":23,"v":19.03},{"t":23.3,"v":18.99},{"t":23.6,"v":19.01},{"t":23.9,"v":18.98},{"t":24.3,"v":18.99},{"t":24.7,"v":19},{"t":25.3,"v":18.98},{"t":25.7,"v":19.03},{"t":26,"v":19.07},{"t":26.3,"v":19.01},{"t":26.6,"v":19.07},{"t":26.9,"v":19.02},{"t":27.2,"v":18.98},{"t":27.5,"v":19},{"t":27.8,"v":19.05},{"t":28.1,"v":19},{"t":28.4,"v":19.02},{"t":28.7,"v":19.06},{"t":29,"v":19.01},{"t":29.3,"v":19.05},{"t":29.6,"v":19.02},{"t":29.9,"v":19.03},{"t":30.2,"v":19.01},{"t":30.6,"v":19},{"t":31.2,"v":18.99},{"t":31.9,"v":18.99}
]
},
"columns": 2,
"spacing": {"row": 52, "column": 62},
"bounds": "flush",
"resolve": {"scale": {"color": "independent", "strokeDash": "independent", "strokeWidth": "independent"}, "legend": {"color": "independent", "strokeDash": "independent", "strokeWidth": "independent"}},
"concat": [
{
 "width": 327, "height": 328,
 "layer": [
  {"data": {"name": "a"}, "mark": {"type": "line"},
   "encoding": {
    "x": {"field": "x", "type": "quantitative", "title": "Real Inclination [°]", "scale": {"domain": [-50, 50], "nice": false, "zero": false},
     "axis": {"tickCount": 100, "labelOverlap": false, "values": [-50,-45,-40,-35,-30,-25,-20,-15,-10,-5,0,5,10,15,20,25,30,35,40,45,50], "labelExpr": "datum.value % 10 === 0 ? '' + datum.value : ''", "tickSize": {"condition": {"test": "datum.value % 10 === 0", "value": 6}, "value": 3.5}, "grid": true, "gridColor": "#dcdcdc", "gridOpacity": {"condition": {"test": "datum.value % 10 === 0", "value": 1}, "value": 0}}},
    "y": {"field": "y", "type": "quantitative", "title": "Measured inclination [°]", "scale": {"domain": [-50, 50], "nice": false, "zero": false},
     "axis": {"tickCount": 100, "labelOverlap": false, "values": [-50,-45,-40,-35,-30,-25,-20,-15,-10,-5,0,5,10,15,20,25,30,35,40,45,50], "labelExpr": "datum.value % 10 === 0 ? '' + datum.value : ''", "tickSize": {"condition": {"test": "datum.value % 10 === 0", "value": 6}, "value": 3.5}, "grid": true, "gridColor": "#dcdcdc", "gridOpacity": {"condition": {"test": "datum.value % 10 === 0", "value": 1}, "value": 0}}},
    "color": {"field": "m", "type": "nominal", "scale": {"domain": ["Module 1","Module 2","Module 3","Module 4","Module 5"], "range": ["#e41a1c","#a64fc8","#2fd02f","#1f2fd0","#000000"]},
     "legend": {"orient": "none", "legendX": 6, "legendY": 0, "title": null, "strokeColor": "#000", "fillColor": "#fff", "padding": 7, "labelFontSize": 13, "labelFont": "Lato", "labelColor": "#222", "symbolSize": 600, "rowPadding": -2, "labelOffset": 7, "symbolType": "stroke"}},
    "strokeDash": {"field": "m", "type": "nominal", "scale": {"domain": ["Module 1","Module 2","Module 3","Module 4","Module 5"], "range": [[5,3],[1,0],[2.5,1.5],[1,0],[1,0]]}, "legend": {"orient": "none", "legendX": 6, "legendY": 0, "title": null}},
    "strokeWidth": {"field": "m", "type": "nominal", "scale": {"type": "ordinal", "domain": ["Module 1","Module 2","Module 3","Module 4","Module 5"], "range": [3, 1, 2.5, 1, 3]}, "legend": {"orient": "none", "legendX": 6, "legendY": 0, "title": null}}
   }},
  {"data": {"name": "a"}, "transform": [{"filter": "datum.m === 'Module 2' || datum.m === 'Module 4'"}],
   "mark": {"type": "point", "filled": true, "size": 12, "opacity": 1},
   "encoding": {
    "x": {"field": "x", "type": "quantitative", "title": "Real Inclination [°]"},
    "y": {"field": "y", "type": "quantitative", "title": "Measured inclination [°]"},
    "color": {"field": "m", "type": "nominal"}}},
  {"data": {"values": [{}]}, "mark": {"type": "text", "align": "right", "baseline": "middle"},
   "encoding": {"x": {"datum": 49.5}, "y": {"datum": 46.3}, "text": {"value": "(a)"}}}
 ]
},
{
 "width": 327, "height": 328,
 "layer": [
  {"data": {"values": [{}]}, "mark": {"type": "rule", "strokeDash": [4,3], "strokeWidth": 1.2},
   "encoding": {"x": {"datum": 25}, "y": {"datum": 17.8}, "y2": {"datum": 18.02},
    "color": {"datum": "25°C", "scale": {"domain": ["Thermal uncompensated inclination", "Thermal compensated inclination", "25°C"], "range": ["#1414dc", "#e81c1c", "#555555"]},
     "legend": {"orient": "none", "legendX": 110, "legendY": 2, "title": null, "strokeColor": "#000", "fillColor": "#fff", "padding": 5, "labelFontSize": 13, "labelFont": "Lato", "labelColor": "#222", "labelLimit": 400, "symbolSize": 80, "symbolType": "circle", "rowPadding": 6, "labelOffset": 6,
      "encode": {
       "symbols": {"update": {
        "shape": {"signal": "datum.value === '25°C' ? 'stroke' : 'circle'"},
        "size": {"signal": "datum.value === '25°C' ? 676 : 80"},
        "x": {"signal": "datum.value === '25°C' ? 14 : 5"},
        "fill": {"signal": "datum.value === '25°C' ? 'transparent' : (datum.value === 'Thermal compensated inclination' ? '#e81c1c' : '#1414dc')"},
        "stroke": {"signal": "datum.value === '25°C' ? '#555555' : 'transparent'"},
        "strokeDash": {"signal": "datum.value === '25°C' ? [4,3] : [1,0]"},
        "strokeWidth": {"value": 1.3},
        "opacity": {"value": 1}
       }},
       "labels": {"update": {"dx": {"signal": "datum.value === '25°C' ? 18 : 0"}}}
      }}}
   }},
  {"data": {"name": "br"}, "mark": {"type": "circle", "size": 78, "stroke": "#ffffff", "strokeWidth": 0.8, "strokeOpacity": 0.85, "opacity": 1},
   "encoding": {
    "x": {"field": "t", "type": "quantitative", "title": "Temperature [°C]", "scale": {"domain": [4, 32], "nice": false, "zero": false},
     "axis": {"tickCount": 100, "labelOverlap": false, "values": [4,6,8,10,12,14,16,18,20,22,24,26,28,30,32], "labelExpr": "datum.value % 4 === 0 ? '' + datum.value : ''", "tickSize": {"condition": {"test": "datum.value % 4 === 0", "value": 6}, "value": 3.5}}},
    "y": {"field": "v", "type": "quantitative", "title": "Inclination [°]", "scale": {"domain": [17.8, 19.4], "nice": false, "zero": false},
     "axis": {"tickCount": 100, "labelOverlap": false, "values": [17.8,17.9,18,18.1,18.2,18.3,18.4,18.5,18.6,18.7,18.8,18.9,19,19.1,19.2,19.3,19.4], "labelExpr": "abs(datum.value*5-round(datum.value*5))<0.001 ? '' + datum.value : ''", "tickSize": {"condition": {"test": "abs(datum.value*5-round(datum.value*5))<0.001", "value": 6}, "value": 3.5}}},
    "color": {"datum": "Thermal compensated inclination"}}},
  {"data": {"name": "bu"}, "mark": {"type": "circle", "size": 78, "stroke": "#ffffff", "strokeWidth": 0.8, "strokeOpacity": 0.85, "opacity": 1},
   "encoding": {
    "x": {"field": "t", "type": "quantitative", "title": "Temperature [°C]"},
    "y": {"field": "v", "type": "quantitative", "title": "Inclination [°]"},
    "color": {"datum": "Thermal uncompensated inclination"}}},
  {"data": {"values": [{}]}, "mark": {"type": "text", "align": "left", "baseline": "middle"},
   "encoding": {"x": {"datum": 4.15}, "y": {"datum": 19.355}, "text": {"value": "(b)"}}}
 ]
},
{
 "width": 327, "height": 328,
 "layer": [
  {"data": {"values": [{}]}, "mark": {"type": "rule", "strokeDash": [4,3], "strokeWidth": 1.2, "color": "#555555"},
   "encoding": {"x": {"datum": 25}, "y": {"datum": 18}, "y2": {"datum": 19.58}}},
  {"data": {"name": "cr"}, "mark": {"type": "circle", "size": 78, "stroke": "#ffffff", "strokeWidth": 0.8, "strokeOpacity": 0.85, "opacity": 1, "color": "#e81c1c"},
   "encoding": {
    "x": {"field": "t", "type": "quantitative", "title": "Temperature [°C]", "scale": {"domain": [4, 40], "nice": false, "zero": false},
     "axis": {"tickCount": 100, "labelOverlap": false, "values": [4,6,8,10,12,14,16,18,20,22,24,26,28,30,32,34,36,38,40], "labelExpr": "datum.value % 4 === 0 ? '' + datum.value : ''", "tickSize": {"condition": {"test": "datum.value % 4 === 0", "value": 6}, "value": 3.5}}},
    "y": {"field": "v", "type": "quantitative", "title": "Inclination [°]", "scale": {"domain": [18, 21.2], "nice": false, "zero": false},
     "axis": {"tickCount": 100, "labelOverlap": false, "values": [18,18.2,18.4,18.6,18.8,19,19.2,19.4,19.6,19.8,20,20.2,20.4,20.6,20.8,21,21.2], "labelExpr": "abs(datum.value*2.5-round(datum.value*2.5))<0.001 ? '' + datum.value : ''", "tickSize": {"condition": {"test": "abs(datum.value*2.5-round(datum.value*2.5))<0.001", "value": 6}, "value": 3.5}}}}},
  {"data": {"name": "cu"}, "mark": {"type": "circle", "size": 78, "stroke": "#ffffff", "strokeWidth": 0.8, "strokeOpacity": 0.85, "opacity": 1, "color": "#1414dc"},
   "encoding": {"x": {"field": "t", "type": "quantitative", "title": "Temperature [°C]"}, "y": {"field": "v", "type": "quantitative", "title": "Inclination [°]"}}},
  {"data": {"values": [{}]}, "mark": {"type": "text", "align": "left", "baseline": "middle"},
   "encoding": {"x": {"datum": 4.2}, "y": {"datum": 21.11}, "text": {"value": "(c)"}}}
 ]
},
{
 "width": 327, "height": 328,
 "layer": [
  {"data": {"values": [{}]}, "mark": {"type": "rule", "strokeDash": [4,3], "strokeWidth": 1.2, "color": "#555555"},
   "encoding": {"x": {"datum": 25}, "y": {"datum": 19.2}, "y2": {"datum": 20.45}}},
  {"data": {"name": "dr"}, "mark": {"type": "circle", "size": 78, "stroke": "#ffffff", "strokeWidth": 0.8, "strokeOpacity": 0.85, "opacity": 1, "color": "#e81c1c"},
   "encoding": {
    "x": {"field": "t", "type": "quantitative", "title": "Temperature [°C]", "scale": {"domain": [4, 36], "nice": false, "zero": false},
     "axis": {"tickCount": 100, "labelOverlap": false, "values": [4,6,8,10,12,14,16,18,20,22,24,26,28,30,32,34,36], "labelExpr": "datum.value % 4 === 0 ? '' + datum.value : ''", "tickSize": {"condition": {"test": "datum.value % 4 === 0", "value": 6}, "value": 3.5}}},
    "y": {"field": "v", "type": "quantitative", "title": "Inclination [°]", "scale": {"domain": [19.2, 22.8], "nice": false, "zero": false},
     "axis": {"tickCount": 100, "labelOverlap": false, "values": [19.2,19.4,19.6,19.8,20,20.2,20.4,20.6,20.8,21,21.2,21.4,21.6,21.8,22,22.2,22.4,22.6,22.8], "labelExpr": "abs(datum.value*2.5-round(datum.value*2.5))<0.001 ? '' + datum.value : ''", "tickSize": {"condition": {"test": "abs(datum.value*2.5-round(datum.value*2.5))<0.001", "value": 6}, "value": 3.5}}}}},
  {"data": {"name": "du"}, "mark": {"type": "circle", "size": 78, "stroke": "#ffffff", "strokeWidth": 0.8, "strokeOpacity": 0.85, "opacity": 1, "color": "#1414dc"},
   "encoding": {"x": {"field": "t", "type": "quantitative", "title": "Temperature [°C]"}, "y": {"field": "v", "type": "quantitative", "title": "Inclination [°]"}}},
  {"data": {"values": [{}]}, "mark": {"type": "text", "align": "left", "baseline": "middle"},
   "encoding": {"x": {"datum": 4.2}, "y": {"datum": 22.7}, "text": {"value": "(d)"}}}
 ]
},
{
 "width": 327, "height": 328,
 "layer": [
  {"data": {"values": [{}]}, "mark": {"type": "rule", "strokeDash": [4,3], "strokeWidth": 1.2, "color": "#555555"},
   "encoding": {"x": {"datum": 25}, "y": {"datum": 20.4}, "y2": {"datum": 21.25}}},
  {"data": {"name": "er"}, "mark": {"type": "circle", "size": 78, "stroke": "#ffffff", "strokeWidth": 0.8, "strokeOpacity": 0.85, "opacity": 1, "color": "#e81c1c"},
   "encoding": {
    "x": {"field": "t", "type": "quantitative", "title": "Temperature [°C]", "scale": {"domain": [4, 36], "nice": false, "zero": false},
     "axis": {"tickCount": 100, "labelOverlap": false, "values": [4,6,8,10,12,14,16,18,20,22,24,26,28,30,32,34,36], "labelExpr": "datum.value % 4 === 0 ? '' + datum.value : ''", "tickSize": {"condition": {"test": "datum.value % 4 === 0", "value": 6}, "value": 3.5}}},
    "y": {"field": "v", "type": "quantitative", "title": "Inclination [°]", "scale": {"domain": [20.4, 22.8], "nice": false, "zero": false},
     "axis": {"tickCount": 100, "labelOverlap": false, "values": [20.4,20.6,20.8,21,21.2,21.4,21.6,21.8,22,22.2,22.4,22.6,22.8], "labelExpr": "abs(datum.value*2.5-round(datum.value*2.5))<0.001 ? '' + datum.value : ''", "tickSize": {"condition": {"test": "abs(datum.value*2.5-round(datum.value*2.5))<0.001", "value": 6}, "value": 3.5}}}}},
  {"data": {"name": "eu"}, "mark": {"type": "circle", "size": 78, "stroke": "#ffffff", "strokeWidth": 0.8, "strokeOpacity": 0.85, "opacity": 1, "color": "#1414dc"},
   "encoding": {"x": {"field": "t", "type": "quantitative", "title": "Temperature [°C]"}, "y": {"field": "v", "type": "quantitative", "title": "Inclination [°]"}}},
  {"data": {"values": [{}]}, "mark": {"type": "text", "align": "left", "baseline": "middle"},
   "encoding": {"x": {"datum": 4.2}, "y": {"datum": 22.735}, "text": {"value": "(e)"}}}
 ]
},
{
 "width": 327, "height": 328,
 "layer": [
  {"data": {"values": [{}]}, "mark": {"type": "rule", "strokeDash": [4,3], "strokeWidth": 1.2, "color": "#555555"},
   "encoding": {"x": {"datum": 25}, "y": {"datum": 18}, "y2": {"datum": 19.0}}},
  {"data": {"name": "fr"}, "mark": {"type": "circle", "size": 78, "stroke": "#ffffff", "strokeWidth": 0.8, "strokeOpacity": 0.85, "opacity": 1, "color": "#e81c1c"},
   "encoding": {
    "x": {"field": "t", "type": "quantitative", "title": "Temperature [°C]", "scale": {"domain": [4, 36], "nice": false, "zero": false},
     "axis": {"tickCount": 100, "labelOverlap": false, "values": [4,6,8,10,12,14,16,18,20,22,24,26,28,30,32,34,36], "labelExpr": "datum.value % 4 === 0 ? '' + datum.value : ''", "tickSize": {"condition": {"test": "datum.value % 4 === 0", "value": 6}, "value": 3.5}}},
    "y": {"field": "v", "type": "quantitative", "title": "Inclination [°]", "scale": {"domain": [18, 21.6], "nice": false, "zero": false},
     "axis": {"tickCount": 100, "labelOverlap": false, "values": [18,18.2,18.4,18.6,18.8,19,19.2,19.4,19.6,19.8,20,20.2,20.4,20.6,20.8,21,21.2,21.4,21.6], "labelExpr": "abs(datum.value*2.5-round(datum.value*2.5))<0.001 ? '' + datum.value : ''", "tickSize": {"condition": {"test": "abs(datum.value*2.5-round(datum.value*2.5))<0.001", "value": 6}, "value": 3.5}}}}},
  {"data": {"name": "fu"}, "mark": {"type": "circle", "size": 78, "stroke": "#ffffff", "strokeWidth": 0.8, "strokeOpacity": 0.85, "opacity": 1, "color": "#1414dc"},
   "encoding": {"x": {"field": "t", "type": "quantitative", "title": "Temperature [°C]"}, "y": {"field": "v", "type": "quantitative", "title": "Inclination [°]"}}},
  {"data": {"values": [{}]}, "mark": {"type": "text", "align": "left", "baseline": "middle"},
   "encoding": {"x": {"datum": 4.2}, "y": {"datum": 21.49}, "text": {"value": "(f)"}}}
 ]
}
]
}
